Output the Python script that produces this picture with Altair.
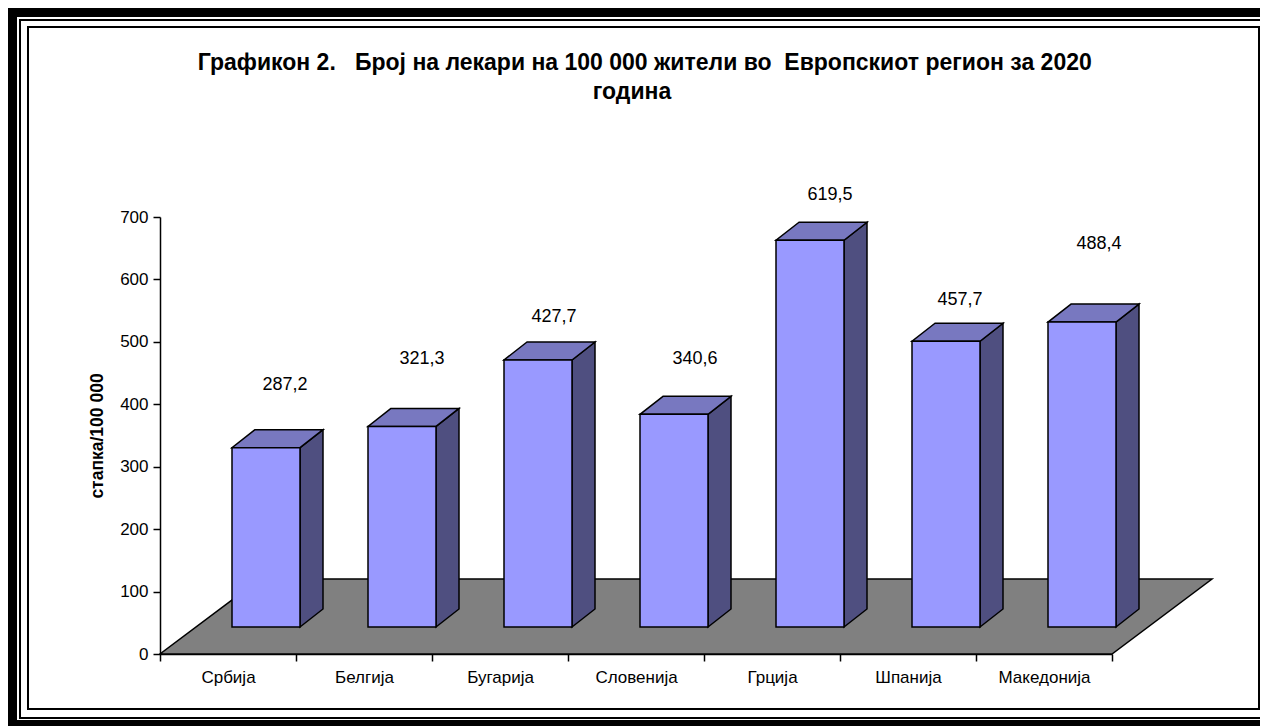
import altair as alt
import pandas as pd

# --- data
categories = ["Србија", "Белгија", "Бугарија", "Словенија", "Грција", "Шпанија", "Македонија"]
values = [287.2, 321.3, 427.7, 340.6, 619.5, 457.7, 488.4]
y_ticks = [0, 100, 200, 300, 400, 500, 600, 700]
x_ticks = [0, 1, 2, 3, 4, 5, 6, 7]
title_lines = ["\u200b\u00a0\u00a0\u00a0\u00a0Графикон 2.\u00a0\u00a0\u00a0Број на лекари на 100 000 жители во\u00a0\u00a0Европскиот регион за 2020", "година"]
y_title = "стапка/100 000"

# --- layout of the pseudo-3D drawing, in data units
DEPTH_X, DEPTH_Y = 100 / 136, 75 * 700 / 437      # floor depth
BAR_LEFT, BAR_W = 72 / 136, 68 / 136               # front face, from slot start
BAR_BASE = 27 * 700 / 437                           # front face base above the axis
SIDE_X, SIDE_Y = 23 / 136, 18 * 700 / 437           # bar depth
# data-label placement (x in slots, y as lift above the front top)
label_x = [125 / 136, 262 / 136, 394 / 136, 535 / 136, 670 / 136, 800 / 136, 939 / 136]
label_lift = [63, 67, 43, 55, 45, 41, 78]
label_lift = [v * 700 / 437 for v in label_lift]

X = alt.Scale(domain=[0, 7], nice=False, zero=False)
Y = alt.Scale(domain=[0, 700], nice=False, zero=False)
FONT = "Liberation Sans"
FRONT, TOP, SIDE, FLOOR = "#9999FF", "#7878C0", "#4F4F80", "#808080"
EDGE = 1.5

floor = pd.DataFrame({
    "y": [0, DEPTH_Y], "x": [0, DEPTH_X], "x2": [7, 7 + DEPTH_X]})

front_rows, top_rows, side_rows, label_rows = [], [], [], []
for i, (c, v) in enumerate(zip(categories, values)):
    x0 = i + BAR_LEFT
    x1 = x0 + BAR_W
    y0 = BAR_BASE
    y1 = BAR_BASE + v
    front_rows.append({"c": c, "x": x0, "x2": x1, "y": y0, "y2": y1})
    top_rows += [
        {"c": c, "y": y1, "x": x0, "x2": x1},
        {"c": c, "y": y1 + SIDE_Y, "x": x0 + SIDE_X, "x2": x1 + SIDE_X},
    ]
    side_rows += [
        {"c": c, "x": x1, "y": y0, "y2": y1},
        {"c": c, "x": x1 + SIDE_X, "y": y0 + SIDE_Y, "y2": y1 + SIDE_Y},
    ]
    label_rows.append({"x": label_x[i], "y": y1 + label_lift[i],
                       "t": f"{v:.1f}".replace(".", ",")})

labels_js = "[" + ",".join(f"'{c}'" for c in categories) + "]"

x_axis = alt.Axis(
    values=x_ticks, title=None, grid=False, labelExpr=f"datum.value < 7 ? {labels_js}[datum.value] : ''",
    labelOffset=68, labelFlush=False, labelOverlap=False, labelFont=FONT, labelFontSize=17,
    labelColor="#000000", labelPadding=8, tickColor="#000000", domainColor="#000000", tickSize=7,
    tickWidth=1.5, domainWidth=1.5,
)
y_axis = alt.Axis(
    values=y_ticks, title=y_title, grid=False, labelFont=FONT, labelFontSize=17, labelColor="#000000",
    labelPadding=5, tickColor="#000000", domainColor="#000000", tickSize=7,
    tickWidth=1.5, domainWidth=1.5,
    titleFont=FONT, titleFontSize=17.5, titleFontWeight="bold", titleColor="#000000", titlePadding=13,
)
ex = dict(scale=X, axis=x_axis)
ey = dict(scale=Y, axis=y_axis)

one = alt.Data(values=[{}])


def band(x, x2, y, y2):
    """A piece of the picture's frame, in pixels of the plot's own coordinates."""
    return alt.Chart(one).mark_rect(color="#000000").encode(
        x=alt.value(x - 160), x2=alt.value(x2 - 160), y=alt.value(y - 217), y2=alt.value(y2 - 217))


frame = [
    band(8, 1260, 8, 17), band(8, 17, 8, 726), band(8, 1260, 720, 726),
    band(19, 1260, 19, 21), band(19, 21, 19, 719), band(19, 1260, 717, 719),
    band(27, 1261, 26, 28), band(27, 29, 26, 710), band(27, 1261, 708, 710), band(1258, 1260, 26, 710),
]

floor_layer = alt.Chart(floor).mark_area(
    orient="horizontal", color=FLOOR, stroke="#000000", strokeWidth=EDGE, opacity=1, line=False
).encode(y=alt.Y("y:Q", **ey), x=alt.X("x:Q", **ex), x2="x2:Q")

side_layer = alt.Chart(pd.DataFrame(side_rows)).mark_area(
    color=SIDE, stroke="#000000", strokeWidth=EDGE, orient="vertical"
).encode(x=alt.X("x:Q", **ex), y=alt.Y("y:Q", **ey), y2="y2:Q", detail="c:N")

top_layer = alt.Chart(pd.DataFrame(top_rows)).mark_area(
    color=TOP, stroke="#000000", strokeWidth=EDGE, orient="horizontal"
).encode(y=alt.Y("y:Q", **ey), x=alt.X("x:Q", **ex), x2="x2:Q", detail="c:N")

front_layer = alt.Chart(pd.DataFrame(front_rows)).mark_rect(
    color=FRONT, stroke="#000000", strokeWidth=EDGE
).encode(x=alt.X("x:Q", **ex), x2="x2:Q", y=alt.Y("y:Q", **ey), y2="y2:Q")

label_layer = alt.Chart(pd.DataFrame(label_rows)).mark_text(
    font=FONT, fontSize=18, color="#000000", align="center", baseline="middle"
).encode(x=alt.X("x:Q", **ex), y=alt.Y("y:Q", **ey), text="t:N")

chart = alt.layer(
    *frame, floor_layer, side_layer, top_layer, front_layer, label_layer
).properties(
    width=952, height=437,
    padding={"left": 152, "top": 209, "right": 148, "bottom": 72},
    autosize=alt.AutoSizeParams(type="none"),
    title=alt.TitleParams(
        text=title_lines, font=FONT, fontSize=23, fontWeight="bold", color="#000000",
        anchor="middle", frame="group", dx=-4, offset=-96, lineHeight=29),
    background="#FFFFFF",
).configure_view(stroke=None)

chart.save("out.html", embed_options={"renderer": "svg", "actions": False})
